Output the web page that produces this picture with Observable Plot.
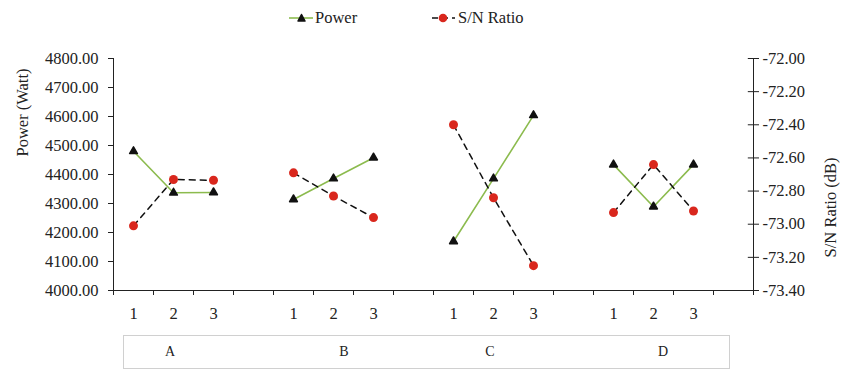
<!DOCTYPE html>
<html><head><meta charset="utf-8">
<script src="https://cdn.jsdelivr.net/npm/d3@7"></script>
<script src="https://cdn.jsdelivr.net/npm/@observablehq/plot@0.6"></script>
<style>
body{margin:0;background:#fff;}
#wrap{position:relative;width:851px;height:369px;font-family:'Liberation Serif';color:#222;}
#chart{position:absolute;left:0;top:0;}
.leg{position:absolute;top:8px;font-size:16.5px;font-family:'Liberation Serif';display:flex;align-items:center;}
#box{position:absolute;left:123px;top:335px;width:607px;height:34px;border:1px solid #d0d0d0;box-sizing:border-box;}
.glab{position:absolute;top:344px;font-size:14px;font-family:'Liberation Serif';transform:translateX(-50%);}
</style></head>
<body><div id="wrap"><div id="chart"></div></div>
<script>
const groups = ["A","B","C","D"];
const levels = ["1","2","3"];
const power = [
  [4480, 4337, 4338],
  [4314, 4386, 4458],
  [4169, 4386, 4604],
  [4434, 4289, 4434]
];
const snRatio = [
  [-73.01, -72.73, -72.735],
  [-72.69, -72.83, -72.96],
  [-72.40, -72.84, -73.25],
  [-72.93, -72.64, -72.92]
];
const powerTicks = [4000,4100,4200,4300,4400,4500,4600,4700,4800];
const snTicks = [-72.0,-72.2,-72.4,-72.6,-72.8,-73.0,-73.2,-73.4];

const pMin = 4000, pMax = 4800, sMin = -73.4, sMax = -72.0;
const toP = s => pMin + (s - sMin) / (sMax - sMin) * (pMax - pMin);
const fromP = p => sMin + (p - pMin) / (pMax - pMin) * (sMax - sMin);

const rows = [];
groups.forEach((g, gi) => levels.forEach((l, li) => {
  rows.push({group: g, level: l, x: gi * 4 + li + 0.5, power: power[gi][li], sn: snRatio[gi][li], snP: toP(snRatio[gi][li])});
}));

const green = "#8cbb4e", red = "#d9271d";
const nCat = groups.length * 4;
const FF = "Liberation Serif";

const chart = Plot.plot({
  width: 851, height: 325,
  marginLeft: 113, marginRight: 98, marginTop: 58, marginBottom: 35,
  style: "font-family: 'Liberation Serif'; font-size: 16px; color: #222; background: transparent;",
  x: {domain: [0, nCat], axis: null},
  y: {domain: [pMin, pMax], axis: null},
  marks: [
    Plot.axisY({ticks: powerTicks, tickFormat: d => d.toFixed(2), tickSize: 5, tickPadding: 10, label: null, fontSize: 16.5, fontFamily: FF}),
    Plot.axisY({anchor: "right", ticks: snTicks.map(toP), tickFormat: p => fromP(p).toFixed(2), tickSize: 5, tickPadding: 4, label: null, fontSize: 16.5, fontFamily: FF}),
    Plot.ruleY(snTicks.map(toP), {x1: nCat - 0.13, x2: nCat, stroke: "#222"}),
    Plot.axisX({ticks: d3.range(nCat + 1), tickFormat: () => "", tickSize: 5, label: null}),
    Plot.ruleX([0, nCat], {stroke: "#222"}),
    Plot.ruleY([pMin], {stroke: "#222"}),
    Plot.text(rows, {x: "x", y: () => pMin, text: "level", dy: 23, fontSize: 16.5, fontFamily: FF}),
    Plot.line(rows, {x: "x", y: "power", z: "group", stroke: green, strokeWidth: 1.6}),
    Plot.line(rows, {x: "x", y: "snP", z: "group", stroke: "#111", strokeWidth: 1.5, strokeDasharray: "6,5"}),
    Plot.dot(rows, {x: "x", y: "power", symbol: "triangle", r: 2.9, fill: "#111", stroke: "#111", strokeWidth: 1.5, strokeLinejoin: "round"}),
    Plot.dot(rows, {x: "x", y: "snP", r: 4.5, fill: red}),
    Plot.text(["Power (Watt)"], {frameAnchor: "left", rotate: -90, dx: -91, dy: -18, fontSize: 16.5, fontFamily: FF}),
    Plot.text(["S/N Ratio (dB)"], {frameAnchor: "right", rotate: -90, dx: 77, dy: -17, fontSize: 16.5, fontFamily: FF})
  ]
});
document.getElementById("chart").appendChild(chart);

const wrap = document.getElementById("wrap");
// legend
const leg1 = document.createElement("div");
leg1.className = "leg"; leg1.style.left = "289px";
leg1.innerHTML = `<svg width="26" height="14"><line x1="0" x2="24" y1="7" y2="7" stroke="${green}" stroke-width="1.6"/><path d="M12.5,3.5 L16,10 L9,10 Z" fill="#111" stroke="#111" stroke-linejoin="round" stroke-width="1.5"/></svg><span>Power</span>`;
wrap.appendChild(leg1);
const leg2 = document.createElement("div");
leg2.className = "leg"; leg2.style.left = "432px";
leg2.innerHTML = `<svg width="26" height="14"><line x1="0" x2="23" y1="7" y2="7" stroke="#111" stroke-width="1.5" stroke-dasharray="6,4"/><circle cx="11" cy="7" r="4.3" fill="${red}"/></svg><span>S/N Ratio</span>`;
wrap.appendChild(leg2);

// group box
const box = document.createElement("div"); box.id = "box"; wrap.appendChild(box);
const gpos = [170, 344, 490, 663];
groups.forEach((g, i) => {
  const s = document.createElement("span"); s.className = "glab"; s.textContent = g;
  s.style.left = gpos[i] + "px"; wrap.appendChild(s);
});
</script></body></html>
